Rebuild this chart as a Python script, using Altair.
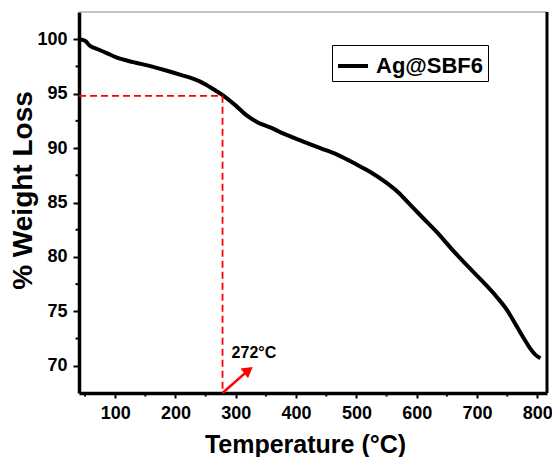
import altair as alt
import pandas as pd

temps = [40, 50, 58, 70, 85, 103, 130, 160, 186, 210, 230, 250, 263, 280, 300, 318,
         335, 357, 380, 412, 440, 468, 500, 523, 550, 570, 589, 610, 633, 660, 689,
         710, 733, 750, 766, 780, 788, 797, 805]
weights = [100.0, 99.85, 99.4, 99.1, 98.75, 98.3, 97.9, 97.5, 97.1, 96.7, 96.35, 95.85,
           95.4, 94.8, 93.9, 93.0, 92.4, 91.9, 91.3, 90.6, 90.0, 89.4, 88.5, 87.8, 86.8,
           85.9, 84.8, 83.6, 82.3, 80.6, 78.9, 77.7, 76.3, 75.1, 73.6, 72.3, 71.6, 71.0, 70.7]
series_name = "Ag@SBF6"

x_domain = [40, 816]
y_domain = [67.5, 102.5]
x_major = [100, 200, 300, 400, 500, 600, 700, 800]
x_minor = [50, 150, 250, 350, 450, 550, 650, 750]
y_major = [70, 75, 80, 85, 90, 95, 100]
y_minor = [72.5, 77.5, 82.5, 87.5, 92.5, 97.5]

onset_x = 278
onset_y = 94.8
onset_label = "272°C"
arrow_start = [278, 67.5]
arrow_end = [321, 69.6]
label_pos = [293, 70.7]

FONT = "Liberation Sans"

df = pd.DataFrame({"T": temps, "W": weights, "series": series_name})

xs = alt.Scale(domain=x_domain, nice=False, zero=False)
ys = alt.Scale(domain=y_domain, nice=False, zero=False)

x_axis = alt.Axis(
    values=x_major, title="Temperature (°C)", format="d",
    labelOverlap=False, labelFlush=False,
    tickSize=5, tickWidth=2, domainWidth=3.5, labelFontSize=18, labelFontWeight="bold",
    labelPadding=6, titleFontSize=25, titleFontWeight="bold",
    titleX=226, titleY=59, titleBaseline="alphabetic", titleAlign="center",
)
y_axis = alt.Axis(
    values=y_major, title="% Weight Loss", format="d",
    labelOverlap=False, labelFlush=False,
    tickSize=6, tickWidth=2, domainWidth=3.5, labelFontSize=18, labelFontWeight="bold",
    labelPadding=6, titleFontSize=28, titleFontWeight="bold",
    titleX=-48, titleY=178, titleBaseline="alphabetic", titleAlign="center", titleAngle=270,
)


def X(f):
    return alt.X(f, scale=xs, axis=x_axis)


def Y(f):
    return alt.Y(f, scale=ys, axis=y_axis)


line = alt.Chart(df).mark_line(strokeWidth=4, interpolate="monotone").encode(
    x=X("T:Q"), y=Y("W:Q"),
    color=alt.Color("series:N", scale=alt.Scale(range=["black"]),
                    legend=alt.Legend(title=None, orient="none", legendX=253, legendY=33,
                                      strokeColor="black", padding=4,
                                      symbolType="stroke", symbolSize=900,
                                      symbolStrokeWidth=4, labelFontSize=22,
                                      labelFontWeight="bold", labelColor="black",
                                      labelOffset=6)),
)

xmin_df = pd.DataFrame({"x": x_minor})
xminor = alt.Chart(xmin_df).mark_rule(color="black", strokeWidth=2).encode(
    x=X("x:Q"), y=alt.value(381), y2=alt.value(384.5))
ymin_df = pd.DataFrame({"y": y_minor})
yminor = alt.Chart(ymin_df).mark_rule(color="black", strokeWidth=2).encode(
    y=Y("y:Q"), x=alt.value(-3.5), x2=alt.value(0))

hdf = pd.DataFrame({"x": [x_domain[0]], "x2": [onset_x], "y": [onset_y]})
hline = alt.Chart(hdf).mark_rule(color="#ff0000", strokeWidth=1.8, strokeDash=[7, 4]).encode(
    x=X("x:Q"), x2="x2:Q", y=Y("y:Q"))
vdf = pd.DataFrame({"x": [onset_x], "y": [onset_y], "y2": [y_domain[0]]})
vline = alt.Chart(vdf).mark_rule(color="#ff0000", strokeWidth=1.8, strokeDash=[7, 4]).encode(
    x=X("x:Q"), y=Y("y:Q"), y2="y2:Q")

adf = pd.DataFrame({"x": [arrow_start[0]], "y": [arrow_start[1]],
                    "x2": [arrow_end[0]], "y2": [arrow_end[1]]})
shaft = alt.Chart(adf).mark_rule(color="#ff0000", strokeWidth=2.5).encode(
    x=X("x:Q"), y=Y("y:Q"), x2="x2:Q", y2="y2:Q")
hdf2 = pd.DataFrame({"x": [arrow_end[0]], "y": [arrow_end[1]]})
head = alt.Chart(hdf2).mark_point(shape="triangle-up", filled=True, color="#ff0000",
                                  size=150, angle=52, opacity=1).encode(
    x=X("x:Q"), y=Y("y:Q"))

tdf = pd.DataFrame({"x": [label_pos[0]], "y": [label_pos[1]], "t": [onset_label]})
label = alt.Chart(tdf).mark_text(align="left", baseline="alphabetic", fontSize=16,
                                 fontWeight="bold", font=FONT, color="black").encode(
    x=X("x:Q"), y=Y("y:Q"), text="t:N")

top_border = alt.Chart(hdf2).mark_rule(color="#888888", strokeWidth=1).encode(
    x=alt.value(0), x2=alt.value(468), y=alt.value(0))
right_border = alt.Chart(hdf2).mark_rule(color="black", strokeWidth=3).encode(
    x=alt.value(468), y=alt.value(0), y2=alt.value(381))

chart = alt.layer(line, top_border, right_border, xminor, yminor, hline, vline, shaft,
                  head, label).properties(
    width=468, height=381,
    autosize=alt.AutoSizeParams(type="none"),
    padding={"left": 79, "top": 12, "right": 5, "bottom": 64},
    background="white",
).configure_view(strokeWidth=0).configure_axis(
    grid=False, domainColor="black", tickColor="black", labelColor="black",
    titleColor="black", labelFont=FONT, titleFont=FONT,
).configure_legend(labelFont=FONT)

chart.save("out.html", embed_options={"renderer": "svg", "actions": False})
